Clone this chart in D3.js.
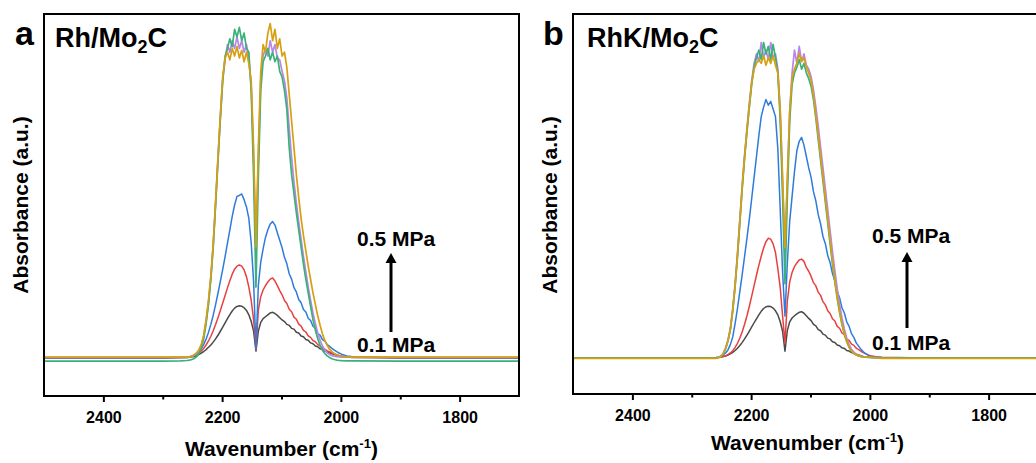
<!DOCTYPE html>
<html>
<head>
<meta charset="utf-8">
<script src="https://cdn.jsdelivr.net/npm/d3@7/dist/d3.min.js"></script>
<style>
  html, body { margin: 0; padding: 0; background: #fff; }
  svg { display: block; }
</style>
</head>
<body>
<svg id="chart" width="1036" height="463"></svg>
<script>
// ---------------- DATA ----------------
const wavenumbers = [2500, 2400, 2300, 2270,
  2259, 2255, 2251, 2247, 2243, 2239, 2235, 2231, 2227, 2223,
  2219, 2215, 2211, 2207, 2203, 2199, 2195, 2191, 2187, 2183,
  2179, 2175, 2171, 2167, 2163, 2159, 2155, 2151, 2147, 2143,
  2139, 2135, 2131, 2127, 2123, 2119, 2115, 2111, 2107, 2103,
  2099, 2095, 2091, 2087, 2083, 2079, 2075, 2071, 2067, 2063,
  2059, 2055, 2051, 2047, 2043, 2039, 2035, 2031, 2027, 2023,
  2019, 2015, 2011, 2007, 2003, 1999,
  1990, 1980, 1900, 1800, 1700];

const xTicksMajor = [2400, 2200, 2000, 1800];
const xTicksMinor = [2300, 2100, 1900];
const xTickLabels = ["2400", "2200", "2000", "1800"];

// Panel a: Rh/Mo2C (0.1 MPa -> 0.5 MPa)
const a_s1 = [0, 0, 0, 0.001,
  0.002, 0.003, 0.005, 0.007, 0.01, 0.018, 0.025, 0.033, 0.043, 0.055,
  0.067, 0.082, 0.099, 0.118, 0.139, 0.161, 0.183, 0.205, 0.226, 0.245,
  0.26, 0.269, 0.272, 0.27, 0.262, 0.248, 0.225, 0.19, 0.14, 0.035,
  0.14, 0.185, 0.205, 0.215, 0.225, 0.235, 0.238, 0.232, 0.222, 0.21,
  0.198, 0.19, 0.175, 0.17, 0.154, 0.15, 0.134, 0.13, 0.114, 0.11,
  0.096, 0.092, 0.078, 0.074, 0.062, 0.058, 0.047, 0.044, 0.035, 0.032,
  0.026, 0.021, 0.017, 0.013, 0.01, 0.007,
  0.004, 0.002, 0, 0, 0];
const a_s2 = [0, 0, 0, 0.001,
  0.003, 0.005, 0.008, 0.012, 0.018, 0.026, 0.036, 0.05, 0.067, 0.088,
  0.113, 0.142, 0.174, 0.21, 0.248, 0.287, 0.326, 0.366, 0.404, 0.438,
  0.464, 0.48, 0.486, 0.48, 0.46, 0.425, 0.37, 0.3, 0.2, 0.045,
  0.25, 0.32, 0.355, 0.378, 0.397, 0.412, 0.418, 0.402, 0.378, 0.352,
  0.33, 0.3, 0.284, 0.254, 0.241, 0.213, 0.202, 0.176, 0.166, 0.144,
  0.135, 0.115, 0.107, 0.09, 0.084, 0.069, 0.062, 0.05, 0.045, 0.036,
  0.031, 0.025, 0.02, 0.016, 0.012, 0.009,
  0.005, 0.003, 0, 0, 0];
const a_s3 = [0, 0, 0, 0.001,
  0.002, 0.004, 0.007, 0.012, 0.02, 0.032, 0.048, 0.07, 0.098, 0.133,
  0.175, 0.223, 0.278, 0.338, 0.4, 0.463, 0.53, 0.6, 0.67, 0.74,
  0.8, 0.845, 0.85, 0.858, 0.828, 0.79, 0.73, 0.6, 0.4, 0.05,
  0.38, 0.5, 0.57, 0.63, 0.67, 0.7, 0.713, 0.695, 0.655, 0.615,
  0.576, 0.526, 0.492, 0.44, 0.412, 0.367, 0.345, 0.305, 0.288, 0.253,
  0.24, 0.207, 0.195, 0.165, 0.155, 0.127, 0.119, 0.095, 0.088, 0.069,
  0.06, 0.049, 0.04, 0.032, 0.025, 0.019,
  0.01, 0.005, 0, 0, 0];
const a_s4 = [-0.017, -0.017, -0.017, -0.016,
  -0.014, -0.012, -0.009, -0.004, 0.006, 0.024, 0.053, 0.1, 0.18, 0.28,
  0.41, 0.58, 0.8, 1.03, 1.25, 1.45, 1.58, 1.62, 1.67, 1.63,
  1.72, 1.68, 1.73, 1.66, 1.7, 1.62, 1.6, 1.4, 0.95, 0.37,
  0.95, 1.4, 1.55, 1.58, 1.62, 1.56, 1.6, 1.55, 1.58, 1.5,
  1.47, 1.4, 1.3, 1.1, 0.96, 0.86, 0.76, 0.67, 0.58, 0.49,
  0.41, 0.34, 0.27, 0.2, 0.145, 0.1, 0.065, 0.04, 0.022, 0.01,
  0.002, -0.005, -0.009, -0.012, -0.014, -0.015,
  -0.016, -0.016, -0.017, -0.017, -0.017];
const a_s5 = [0.003, 0.003, 0.003, 0.003,
  0.004, 0.005, 0.008, 0.014, 0.024, 0.04, 0.066, 0.112, 0.19, 0.29,
  0.42, 0.59, 0.81, 1.04, 1.26, 1.46, 1.56, 1.64, 1.6, 1.66,
  1.62, 1.68, 1.62, 1.66, 1.6, 1.64, 1.56, 1.42, 1.05, 0.56,
  1.05, 1.45, 1.58, 1.62, 1.58, 1.66, 1.6, 1.64, 1.57, 1.56,
  1.5, 1.45, 1.36, 1.2, 1.05, 0.92, 0.81, 0.71, 0.62, 0.53,
  0.45, 0.37, 0.3, 0.235, 0.18, 0.13, 0.092, 0.062, 0.04, 0.026,
  0.017, 0.011, 0.008, 0.006, 0.005, 0.004,
  0.003, 0.003, 0.003, 0.003, 0.003];
const a_s6 = [0.004, 0.004, 0.004, 0.004,
  0.004, 0.006, 0.009, 0.015, 0.025, 0.042, 0.07, 0.12, 0.2, 0.3,
  0.43, 0.6, 0.82, 1.05, 1.27, 1.47, 1.57, 1.6, 1.56, 1.62,
  1.58, 1.63, 1.57, 1.61, 1.55, 1.6, 1.54, 1.45, 1.1, 0.58,
  1.1, 1.5, 1.64, 1.6, 1.7, 1.75, 1.66, 1.72, 1.62, 1.67,
  1.58, 1.6, 1.52, 1.38, 1.24, 1.1, 0.96, 0.84, 0.73, 0.64,
  0.56, 0.48, 0.41, 0.34, 0.28, 0.22, 0.17, 0.125, 0.09, 0.065,
  0.045, 0.032, 0.022, 0.016, 0.011, 0.008,
  0.005, 0.004, 0.004, 0.004, 0.004];

// Panel b: RhK/Mo2C (0.1 MPa -> 0.5 MPa)
const b_s1 = [0, 0, 0, 0.001,
  0.002, 0.003, 0.005, 0.007, 0.01, 0.015, 0.021, 0.029, 0.039, 0.051,
  0.065, 0.082, 0.1, 0.12, 0.141, 0.163, 0.185, 0.206, 0.226, 0.245,
  0.26, 0.269, 0.272, 0.27, 0.262, 0.248, 0.226, 0.19, 0.14, 0.035,
  0.145, 0.19, 0.21, 0.222, 0.232, 0.24, 0.243, 0.235, 0.222, 0.208,
  0.196, 0.177, 0.169, 0.149, 0.143, 0.125, 0.12, 0.104, 0.1, 0.085,
  0.081, 0.068, 0.064, 0.053, 0.05, 0.039, 0.036, 0.028, 0.025, 0.019,
  0.015, 0.011, 0.008, 0.006, 0.004, 0.003,
  0.002, 0.001, 0, 0, 0];
const b_s2 = [0, 0, 0, 0,
  0.001, 0.002, 0.004, 0.007, 0.011, 0.017, 0.026, 0.038, 0.055, 0.077,
  0.105, 0.138, 0.177, 0.222, 0.272, 0.325, 0.38, 0.435, 0.487, 0.535,
  0.578, 0.612, 0.63, 0.625, 0.6, 0.555, 0.47, 0.37, 0.22, 0.08,
  0.3, 0.4, 0.45, 0.48, 0.5, 0.515, 0.52, 0.508, 0.476, 0.456,
  0.429, 0.396, 0.379, 0.346, 0.329, 0.296, 0.279, 0.248, 0.234, 0.206,
  0.194, 0.166, 0.156, 0.131, 0.122, 0.099, 0.092, 0.073, 0.066, 0.051,
  0.044, 0.035, 0.028, 0.021, 0.016, 0.012,
  0.006, 0.003, 0, 0, 0];
const b_s3 = [0, 0, 0, 0.001,
  0.002, 0.004, 0.008, 0.015, 0.026, 0.042, 0.07, 0.11, 0.18, 0.26,
  0.35, 0.44, 0.535, 0.63, 0.73, 0.84, 0.95, 1.06, 1.17, 1.27,
  1.32, 1.36, 1.33, 1.35, 1.31, 1.27, 1.1, 0.78, 0.45, 0.22,
  0.5, 0.72, 0.85, 0.98, 1.09, 1.14, 1.16, 1.12, 1.06, 1.0,
  0.95, 0.875, 0.826, 0.754, 0.706, 0.639, 0.601, 0.539, 0.501, 0.444,
  0.406, 0.349, 0.316, 0.264, 0.236, 0.19, 0.166, 0.128, 0.108, 0.079,
  0.062, 0.045, 0.032, 0.022, 0.014, 0.008,
  0.004, 0.002, 0, 0, 0];
const b_s4 = [0, 0, 0, 0,
  0.0, 0.002, 0.008, 0.021, 0.048, 0.088, 0.148, 0.245, 0.375, 0.53,
  0.71, 0.89, 1.05, 1.19, 1.32, 1.44, 1.53, 1.58, 1.62, 1.57,
  1.66, 1.6, 1.64, 1.57, 1.65, 1.58, 1.5, 1.25, 0.85, 0.39,
  0.85, 1.25, 1.44, 1.5, 1.53, 1.57, 1.52, 1.55, 1.5, 1.47,
  1.43, 1.36, 1.26, 1.15, 1.04, 0.93, 0.82, 0.71, 0.6, 0.495,
  0.4, 0.312, 0.238, 0.175, 0.124, 0.085, 0.056, 0.036, 0.023, 0.015,
  0.01, 0.007, 0.005, 0.004, 0.003, 0.002,
  0.001, 0, 0, 0, 0];
const b_s5 = [0, 0, 0, 0,
  0.0, 0.002, 0.009, 0.023, 0.052, 0.094, 0.156, 0.26, 0.39, 0.55,
  0.73, 0.91, 1.07, 1.21, 1.34, 1.46, 1.55, 1.6, 1.56, 1.66,
  1.58, 1.62, 1.57, 1.66, 1.58, 1.6, 1.52, 1.3, 0.92, 0.55,
  0.92, 1.3, 1.5, 1.62, 1.55, 1.64, 1.56, 1.6, 1.54, 1.52,
  1.48, 1.41, 1.32, 1.22, 1.11, 1.0, 0.89, 0.78, 0.67, 0.56,
  0.46, 0.365, 0.28, 0.21, 0.152, 0.105, 0.07, 0.046, 0.03, 0.02,
  0.013, 0.009, 0.006, 0.005, 0.004, 0.003,
  0.002, 0.001, 0, 0, 0];
const b_s6 = [-0.003, -0.003, -0.003, -0.003,
  -0.002, 0.002, 0.008, 0.022, 0.05, 0.09, 0.15, 0.25, 0.38, 0.54,
  0.72, 0.9, 1.06, 1.2, 1.33, 1.45, 1.52, 1.55, 1.57, 1.55,
  1.59, 1.54, 1.58, 1.55, 1.59, 1.54, 1.5, 1.3, 0.95, 0.58,
  0.95, 1.3, 1.47, 1.52, 1.55, 1.6, 1.56, 1.58, 1.53, 1.5,
  1.46, 1.38, 1.28, 1.17, 1.06, 0.95, 0.84, 0.73, 0.62, 0.51,
  0.41, 0.32, 0.245, 0.18, 0.128, 0.088, 0.058, 0.037, 0.024, 0.016,
  0.011, 0.008, 0.006, 0.005, 0.004, 0.003,
  0.0, -0.002, -0.003, -0.003, -0.003];

// ---------------- STYLE / LAYOUT ----------------
const seriesColors = ["#4a4a4a", "#e8403e", "#2f7bdc", "#3bb07a", "#b687e6", "#d6a012"];
const FONT = "Arial, 'Liberation Sans', Helvetica, sans-serif";

const panels = [
  { letter: "a", pre: "Rh/Mo", series: [a_s1, a_s2, a_s3, a_s5, a_s4, a_s6], order: [0,1,2,4,3,5],
    l: 44, t: 14, r: 519, b: 396, yDom: [-0.2, 1.8],
    letterX: 15, titleX: 55, yTitleX: 21, xTitleY: 456, tickPad: 9.6,
    annX: 357, annTop: 246, annBot: 352, arrowX: 391, arrowBot: 332, arrowTip: 253 },
  { letter: "b", pre: "RhK/Mo", series: [b_s1, b_s2, b_s3, b_s5, b_s4, b_s6], order: [0,1,2,4,3,5],
    l: 573, t: 14, r: 1048, b: 394, yDom: [-0.19, 1.81],
    letterX: 543, titleX: 587, yTitleX: 550, xTitleY: 450, tickPad: 10,
    annX: 872, annTop: 243, annBot: 350, arrowX: 907, arrowBot: 328, arrowTip: 252 }
];

const svg = d3.select("#chart");

panels.forEach((p, pi) => {
  const x = d3.scaleLinear().domain([2500, 1700]).range([p.l, p.r]);
  const y = d3.scaleLinear().domain(p.yDom).range([p.b, p.t]);
  const g = svg.append("g");

  const clipId = "clip" + pi;
  svg.append("clipPath").attr("id", clipId)
    .append("rect").attr("x", p.l).attr("y", p.t).attr("width", p.r - p.l).attr("height", p.b - p.t);

  const line = d3.line().x(d => x(d[0])).y(d => y(d[1]));
  const curves = g.append("g").attr("clip-path", `url(#${clipId})`);
  p.series.forEach((s, i) => {
    curves.append("path")
      .datum(d3.zip(wavenumbers, s))
      .attr("d", line)
      .attr("fill", "none")
      .attr("stroke", seriesColors[p.order[i]])
      .attr("stroke-width", i >= 3 ? 1.7 : 1.5)
      .attr("stroke-linejoin", "round");
  });

  // frame
  g.append("rect")
    .attr("x", p.l).attr("y", p.t)
    .attr("width", p.r - p.l).attr("height", p.b - p.t)
    .attr("fill", "none").attr("stroke", "#000").attr("stroke-width", 2);

  // x axis major ticks
  const axMajor = d3.axisBottom(x).tickValues(xTicksMajor)
    .tickFormat((d, i) => xTickLabels[i]).tickSize(6).tickPadding(p.tickPad);
  const gx = g.append("g").attr("transform", `translate(0,${p.b})`).call(axMajor);
  gx.select(".domain").remove();
  gx.selectAll("line").attr("stroke", "#000").attr("stroke-width", 2);
  gx.selectAll("text").attr("font-family", FONT).attr("font-weight", "bold")
    .attr("font-size", 16).attr("fill", "#000");

  const axMinor = d3.axisBottom(x).tickValues(xTicksMinor).tickFormat("").tickSize(3.5);
  const gm = g.append("g").attr("transform", `translate(0,${p.b})`).call(axMinor);
  gm.select(".domain").remove();
  gm.selectAll("line").attr("stroke", "#000").attr("stroke-width", 2);

  // axis titles
  const xt = g.append("text")
    .attr("x", (p.l + p.r) / 2 - (pi === 1 ? 3 : 0)).attr("y", p.xTitleY)
    .attr("text-anchor", "middle")
    .attr("font-family", FONT).attr("font-weight", "bold").attr("font-size", 21).attr("fill", "#000");
  xt.append("tspan").text("Wavenumber (cm");
  xt.append("tspan").text("-1").attr("font-size", 13).attr("dy", -8);
  xt.append("tspan").text(")").attr("dy", 8);

  g.append("text")
    .attr("transform", `translate(${p.yTitleX},205) rotate(-90)`)
    .attr("text-anchor", "middle").attr("dy", "0.35em")
    .attr("font-family", FONT).attr("font-weight", "bold").attr("font-size", 21).attr("fill", "#000")
    .text("Absorbance (a.u.)");

  // panel letter
  g.append("text").attr("x", p.letterX).attr("y", 45)
    .attr("font-family", FONT).attr("font-weight", "bold").attr("font-size", 34).attr("fill", "#000")
    .text(p.letter);

  // sample title
  const tt = g.append("text").attr("x", p.titleX).attr("y", 47)
    .attr("font-family", FONT).attr("font-weight", "bold").attr("font-size", 27).attr("fill", "#000");
  tt.append("tspan").text(p.pre);
  tt.append("tspan").text("2").attr("font-size", 18).attr("dy", 6);
  tt.append("tspan").text("C").attr("dy", -6);

  // pressure annotations
  g.append("text").attr("x", p.annX).attr("y", p.annTop)
    .attr("font-family", FONT).attr("font-weight", "bold").attr("font-size", 21).attr("fill", "#000")
    .text("0.5 MPa");
  g.append("text").attr("x", p.annX).attr("y", p.annBot)
    .attr("font-family", FONT).attr("font-weight", "bold").attr("font-size", 21).attr("fill", "#000")
    .text("0.1 MPa");
  g.append("line")
    .attr("x1", p.arrowX).attr("x2", p.arrowX)
    .attr("y1", p.arrowBot).attr("y2", p.arrowTip + 8)
    .attr("stroke", "#000").attr("stroke-width", 3);
  g.append("path")
    .attr("d", `M${p.arrowX - 5.5},${p.arrowTip + 10} L${p.arrowX + 5.5},${p.arrowTip + 10} L${p.arrowX},${p.arrowTip} Z`)
    .attr("fill", "#000");
});
</script>
</body>
</html>
